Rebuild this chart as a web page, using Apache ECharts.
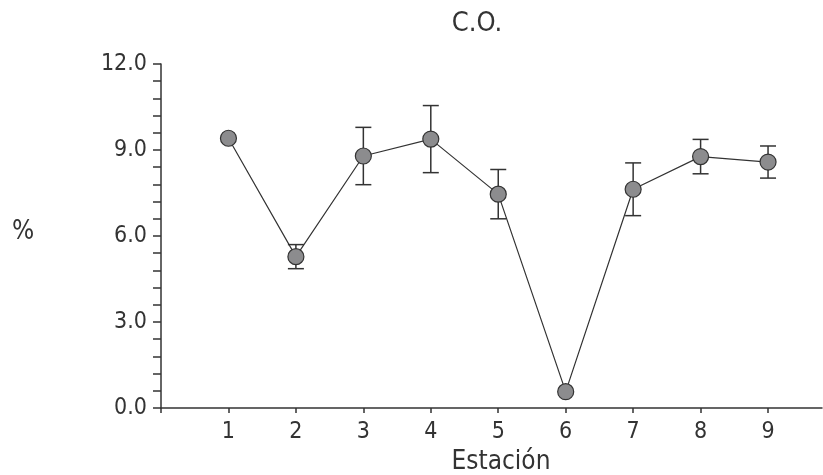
<!DOCTYPE html>
<html>
<head>
<meta charset="utf-8">
<script src="https://cdn.jsdelivr.net/npm/echarts@6/dist/echarts.min.js"></script>
<style>html,body{margin:0;padding:0;background:#fff;}#c{width:823px;height:475px;}</style>
</head>
<body>
<div id="c"></div>
<script>
var stations = [1, 2, 3, 4, 5, 6, 7, 8, 9];
var means = [9.41, 5.28, 8.79, 9.38, 7.46, 0.57, 7.63, 8.77, 8.58];
var errors = [0, 0.42, 1.0, 1.17, 0.86, 0, 0.92, 0.6, 0.56];
var yTicks = [0, 3, 6, 9, 12];
var xTicks = [0, 1, 2, 3, 4, 5, 6, 7, 8, 9];

var FONT = '"Liberation Sans Narrow", "DejaVu Sans Condensed", "Liberation Sans", sans-serif';
var chart = echarts.init(document.getElementById('c'));
var lineData = stations.map(function (s, i) { return [s, means[i]]; });
var errData = stations.map(function (s, i) { return [s, means[i] - errors[i], means[i] + errors[i]]; });

chart.setOption({
  animation: false,
  backgroundColor: '#fff',
  grid: { left: 161, right: 1, top: 64, bottom: 67, containLabel: false },
  title: {
    text: 'C.O.', left: 472, top: 5, textAlign: 'center',
    textStyle: { fontFamily: FONT, fontSize: 27, fontWeight: 'normal', color: '#333' }
  },
  graphic: [
    { type: 'text', left: 12, top: 219, style: { text: '%', fontFamily: FONT, fontSize: 26, fill: '#333' } },
    { type: 'text', x: 501, y: 462, style: { text: 'Estación', fontFamily: FONT, fontSize: 26, fill: '#333', align: 'center', verticalAlign: 'middle' } }
  ],
  xAxis: {
    type: 'value', min: 0, max: 9.8, interval: 1,
    axisLine: { show: true, lineStyle: { color: '#333', width: 1.5 } },
    axisTick: { show: true, length: 5, customValues: xTicks, lineStyle: { color: '#333', width: 1.5 } },
    splitLine: { show: false },
    axisLabel: {
      fontFamily: FONT, fontSize: 23, color: '#333', margin: 13,
      customValues: stations,
      formatter: function (v) { return String(v); }
    }
  },
  yAxis: {
    type: 'value', min: yTicks[0], max: yTicks[yTicks.length - 1], interval: 3,
    axisLine: { show: true, lineStyle: { color: '#333', width: 1.5 } },
    axisTick: { show: true, length: 8, lineStyle: { color: '#333', width: 1.5 } },
    minorTick: { show: true, splitNumber: 5, length: 8, lineStyle: { color: '#333', width: 1.5 } },
    splitLine: { show: false },
    minorSplitLine: { show: false },
    axisLabel: {
      fontFamily: FONT, fontSize: 23, color: '#333', margin: 14,
      formatter: function (v) { return v.toFixed(1); }
    }
  },
  series: [
    {
      type: 'custom', z: 1, data: errData,
      renderItem: function (params, api) {
        var x = api.value(0), lo = api.value(1), hi = api.value(2);
        if (hi - lo <= 0) return null;
        var pLo = api.coord([x, lo]), pHi = api.coord([x, hi]);
        var w = 8;
        var st = { stroke: '#333', lineWidth: 1.5 };
        return {
          type: 'group',
          children: [
            { type: 'line', shape: { x1: pLo[0], y1: pLo[1], x2: pHi[0], y2: pHi[1] }, style: st },
            { type: 'line', shape: { x1: pLo[0] - w, y1: pLo[1], x2: pLo[0] + w, y2: pLo[1] }, style: st },
            { type: 'line', shape: { x1: pHi[0] - w, y1: pHi[1], x2: pHi[0] + w, y2: pHi[1] }, style: st }
          ]
        };
      }
    },
    {
      type: 'line', z: 2, data: lineData,
      symbol: 'circle', symbolSize: 16,
      lineStyle: { color: '#333', width: 1.2 },
      itemStyle: { color: '#8c8c8e', borderColor: '#333', borderWidth: 1.2 }
    }
  ]
});
</script>
</body>
</html>
